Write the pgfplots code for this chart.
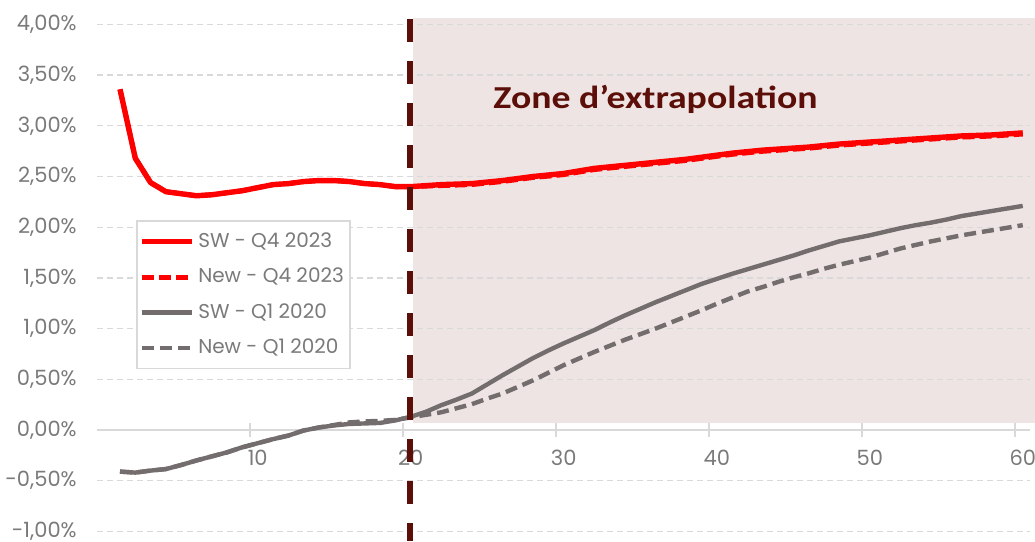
\documentclass[border=0pt]{standalone}
\usepackage{pgfplots}
\usepackage{pgfplotstable}
\pgfplotsset{compat=1.18}
\usepackage{fontspec}
\setmainfont{Poppins}
\newfontfamily\titlefont[FakeStretch=1.18]{Carlito}
\definecolor{redline}{HTML}{FF0000}
\definecolor{greyline}{HTML}{736D6D}
\definecolor{shadecol}{HTML}{EEE4E3}
\definecolor{darkbrown}{HTML}{5C0F08}
\definecolor{gridgray}{HTML}{D9D9D9}
\definecolor{labelgray}{HTML}{7A7A7A}

\pgfplotstableread{
k  sw4    new4   sw1     new1
1  3.36   3.36   -0.41   -0.41
2  2.68   2.68   -0.42   -0.42
3  2.44   2.44   -0.40   -0.40
4  2.35   2.35   -0.385  -0.385
5  2.33   2.33   -0.345  -0.345
6  2.31   2.31   -0.30   -0.30
7  2.32   2.32   -0.26   -0.26
8  2.34   2.34   -0.22   -0.22
9  2.36   2.36   -0.17   -0.17
10 2.39   2.39   -0.13   -0.13
11 2.42   2.42   -0.09   -0.09
12 2.43   2.43   -0.055  -0.055
13 2.45   2.45   -0.005  -0.005
14 2.46   2.46   0.025   0.025
15 2.46   2.46   0.045   0.05
16 2.45   2.45   0.06    0.075
17 2.43   2.43   0.065   0.085
18 2.42   2.42   0.07    0.09
19 2.40   2.40   0.095   0.10
20 2.40   2.40   0.13    0.125
21 2.41   2.405  0.18    0.15
22 2.42   2.41   0.245   0.175
23 2.425  2.415  0.30    0.215
24 2.43   2.42   0.36    0.255
25 2.445  2.435  0.45    0.31
26 2.46   2.45   0.54    0.36
27 2.48   2.47   0.625   0.425
28 2.50   2.49   0.71    0.49
29 2.515  2.503  0.785   0.565
30 2.53   2.518  0.855   0.64
31 2.555  2.543  0.92    0.705
32 2.58   2.568  0.985   0.77
33 2.595  2.583  1.06    0.83
34 2.61   2.598  1.13    0.89
35 2.625  2.613  1.195   0.945
36 2.64   2.628  1.26    1.00
37 2.655  2.643  1.32    1.06
38 2.67   2.658  1.38    1.12
39 2.69   2.678  1.44    1.18
40 2.71   2.698  1.49    1.245
41 2.73   2.718  1.54    1.305
42 2.745  2.733  1.585   1.365
43 2.76   2.748  1.63    1.41
44 2.77   2.758  1.675   1.46
45 2.78   2.768  1.72    1.505
46 2.79   2.778  1.77    1.545
47 2.805  2.793  1.815   1.59
48 2.82   2.808  1.86    1.63
49 2.83   2.818  1.89    1.665
50 2.84   2.828  1.92    1.70
51 2.85   2.838  1.955   1.745
52 2.86   2.848  1.99    1.79
53 2.87   2.858  2.02    1.825
54 2.88   2.868  2.045   1.86
55 2.89   2.878  2.075   1.89
56 2.90   2.888  2.11    1.92
57 2.905  2.893  2.135   1.945
58 2.91   2.898  2.16    1.97
59 2.92   2.908  2.185   1.995
60 2.93   2.918  2.21    2.02
}\curves

\begin{document}
\begin{tikzpicture}
\begin{axis}[
  set layers,
  x=7.65pt, y=50.7pt,
  xmin=-0.5, xmax=60.5, ymin=-1.095, ymax=4.06,
  clip=false,
  axis x line*=middle, axis y line*=left,
  y axis line style={draw=none},
  x axis line style={draw=gridgray, line width=0.9pt},
  xtick={-0.5,9.5,...,59.5},
  xticklabels={,10,20,30,40,50,60},
  xticklabel style={font=\fontsize{10.5}{12}\selectfont, text=labelgray, anchor=north, inner sep=0pt, xshift=3.83pt, yshift=-6.5pt},
  tick align=center,
  major tick length=7pt,
  xtick style={draw=gridgray, line width=0.9pt},
  ytick={-1,-0.5,...,4},
  yticklabels={{-1,00\%},{-0,50\%},{0,00\%},{0,50\%},{1,00\%},{1,50\%},{2,00\%},{2,50\%},{3,00\%},{3,50\%},{4,00\%}},
  yticklabel style={font=\fontsize{10.5}{12}\selectfont, text=labelgray, anchor=east, inner sep=0pt, xshift=-6.5pt},
  ytick style={draw=none},
  ymajorgrids=true,
  major grid style={draw=gridgray, dash pattern=on 3pt off 2pt, line width=0.6pt},
  legend style={at={(axis cs:2.05,2.07)}, anchor=north west, draw=gridgray, line width=0.8pt, fill=white,
    font=\fontsize{10}{12}\selectfont, text=labelgray, inner xsep=1pt, inner ysep=4pt, row sep=4.8pt},
  legend cell align=left,
  legend image code/.code={\draw[#1, line cap=butt] (0pt,0pt) -- (25pt,0pt);},
]
% extrapolation zone
\addplot[on layer=axis background, fill=shadecol, draw=none, forget plot]
  coordinates {(20.16,0.069) (60.8,0.069) (60.8,4.063) (20.16,4.063)} -- cycle;

\addplot[redline, line width=2.7pt, line join=round] table[x=k, y=sw4] {\curves};
\addlegendentry{SW - Q4 2023}
\addplot[redline, line width=2.4pt, dash pattern=on 6pt off 2.5pt] table[x=k, y=new4] {\curves};
\addlegendentry{New - Q4 2023}
\addplot[greyline, line width=2.2pt, line join=round] table[x=k, y=sw1] {\curves};
\addlegendentry{SW - Q1 2020}
\addplot[greyline, line width=2.2pt, dash pattern=on 6pt off 3pt] table[x=k, y=new1] {\curves};
\addlegendentry{New - Q1 2020}

\addplot[darkbrown, line width=3pt, dash pattern=on 11.5pt off 9.5pt, forget plot]
  coordinates {(19.93,4.05) (19.93,-1.095)};

\node[anchor=base west, inner sep=0pt, text=darkbrown, font=\titlefont\bfseries\fontsize{16}{19}\selectfont]
  at (axis cs:25.38,3.175) {Zone d’extrapolation};

\coordinate (bbsw) at (axis cs:-6.843,-1.0947);
\coordinate (bbne) at (axis cs:60.80,4.2406);
\end{axis}
\pgfresetboundingbox
\path (bbsw) rectangle (bbne);
\end{tikzpicture}
\end{document}
